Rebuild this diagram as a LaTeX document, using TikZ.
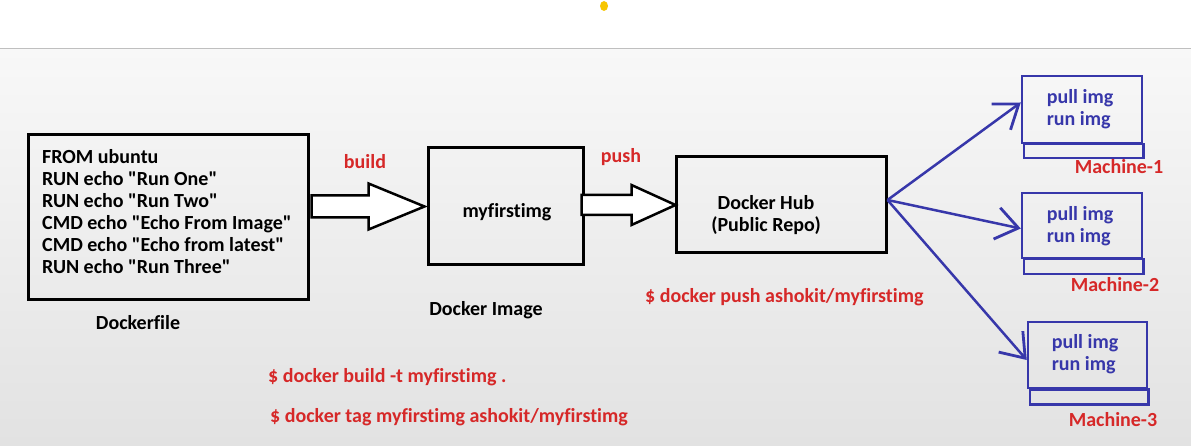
\documentclass[tikz,border=0pt]{standalone}
\usepackage{fontspec}
\setmainfont{Carlito}[Ligatures=NoCommon]
\usetikzlibrary{arrows.meta,calc}
\definecolor{myred}{RGB}{214,40,40}
\definecolor{myblue}{RGB}{55,55,170}
\definecolor{bgtop}{RGB}{248,248,248}
\definecolor{bgbot}{RGB}{226,226,226}
\definecolor{dot}{RGB}{247,198,0}
\newcommand{\q}{\XeTeXglyph\XeTeXcharglyph"22 }
\begin{document}
\begin{tikzpicture}[x=1pt,y=-1pt,
  txt/.style={font=\fontsize{20}{22}\selectfont\bfseries, inner sep=0pt, align=left},
  redtxt/.style={txt, text=myred},
  bbox/.style={draw=black, line width=3pt, inner sep=0pt},
  mbox/.style={draw=myblue, line width=2.5pt, inner sep=0pt, text=myblue, font=\fontsize{20}{22}\selectfont\bfseries, align=left},
  strip/.style={draw=myblue, line width=2.5pt},
  barrow/.style={draw=black, line width=2.5pt, fill=white, line join=miter},
  larrow/.style={draw=myblue, line width=2.5pt, -{Straight Barb[length=22pt,width=32pt,line width=2.8pt]}}
]
\useasboundingbox (0,0) rectangle (1191,446);
% background
\fill[white] (0,0) rectangle (1191,48);
\shade[top color=bgtop, bottom color=bgbot] (0,49) rectangle (1191,446);
\draw[gray!50, line width=1pt] (0,48.5) -- (1191,48.5);
\fill[dot] (604,6) ellipse (4 and 5);

% Dockerfile box
\node[bbox, minimum width=280pt, minimum height=165pt] (df) at (168,217.5) {};
\node[txt, anchor=west] (dftext) at (42,212) {FROM ubuntu\\RUN echo \q Run One\q\\RUN echo \q Run Two\q\\CMD echo \q Echo From Image\q\\CMD echo \q Echo from latest\q\\RUN echo \q Run Three\q};
\node[txt] (dflabel) at (138,323) {Dockerfile};

% image box
\node[bbox, minimum width=155pt, minimum height=117pt] (img) at (505.5,206.5) {};
\node[txt] (imgtext) at (507,212) {myfirstimg};
\node[txt] (imglabel) at (486,310) {Docker Image};

% hub box
\node[bbox, minimum width=210pt, minimum height=96pt] (hub) at (781,205) {};
\node[txt, align=center] (hubtext) at (766,215) {Docker Hub\\(Public Repo)};

% block arrows
\draw[barrow] ($(img.west)+(-115,-11)$) -- ($(img.west)+(-58,-11)$) -- ($(img.west)+(-58,-23)$) -- ($(img.west)+(-2,0)$) -- ($(img.west)+(-58,23)$) -- ($(img.west)+(-58,11)$) -- ($(img.west)+(-115,11)$) -- cycle;
\node[redtxt] (build) at (365,162) {build};

\draw[barrow] ($(hub.west)+(-93,-10)$) -- ($(hub.west)+(-43,-10)$) -- ($(hub.west)+(-43,-20)$) -- ($(hub.west)+(1,0)$) -- ($(hub.west)+(-43,20)$) -- ($(hub.west)+(-43,10)$) -- ($(hub.west)+(-93,10)$) -- cycle;
\node[redtxt] (push) at (621,157) {push};

\node[redtxt, anchor=west] (pushcmd) at (645,297) {\$ docker push ashokit/myfirstimg};
\node[redtxt, anchor=west] (buildcmd) at (268,377) {\$ docker build -t myfirstimg .};
\node[redtxt, anchor=west] (tagcmd) at (270,417) {\$ docker tag myfirstimg ashokit/myfirstimg};

% machines
\node[mbox, minimum width=120pt, minimum height=67pt] (m1) at (1082,109.5) {};
\node[mbox, draw=none] (m1t) at (1080,109) {pull img\\run img};
\draw[strip] ($(m1.south west)+(3,0)$) rectangle ($(m1.south east)+(0,14)$);
\node[redtxt] (m1l) at (1119,167) {Machine-1};

\node[mbox, minimum width=120pt, minimum height=65pt] (m2) at (1082,225.5) {};
\node[mbox, draw=none] (m2t) at (1080,226) {pull img\\run img};
\draw[strip] ($(m2.south west)+(3,0)$) rectangle ($(m2.south east)+(0,15)$);
\node[redtxt] (m2l) at (1115,285) {Machine-2};

\node[mbox, minimum width=119pt, minimum height=66pt] (m3) at (1087.5,355) {};
\node[mbox, draw=none] (m3t) at (1085,354) {pull img\\run img};
\draw[strip] ($(m3.south west)+(3,0)$) rectangle ($(m3.south east)+(0,15)$);
\node[redtxt] (m3l) at (1113,420) {Machine-3};

% blue arrows
\draw[larrow] ($(hub.east)+(0,-5)$) -- ([yshift=7pt]m1.west);
\draw[larrow] ($(hub.east)+(0,-5)$) -- ([yshift=-3pt]m2.west);
\draw[larrow] ($(hub.east)+(0,-5)$) -- ([yshift=-5pt]m3.west);
\end{tikzpicture}
\end{document}
